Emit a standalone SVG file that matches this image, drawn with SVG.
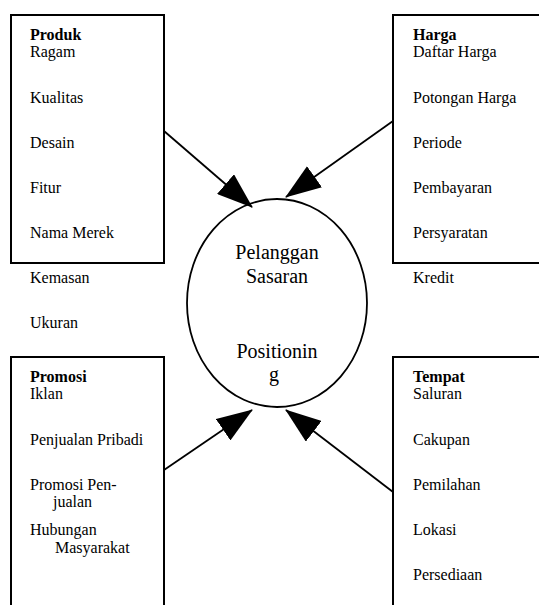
<svg xmlns="http://www.w3.org/2000/svg" width="539" height="605" viewBox="0 0 539 605">
<style>
text{font-family:"Liberation Serif","Times New Roman",serif;font-size:16px;fill:#000}
.h{font-weight:bold}
.c{font-size:20px;text-anchor:middle}
.box{fill:#fff;stroke:#000;stroke-width:2}
.conn line{stroke:#000;stroke-width:1.8;fill:none}
</style>
<defs>
<marker id="ah" viewBox="0 0 36 26" refX="35" refY="13" markerWidth="36" markerHeight="26" markerUnits="userSpaceOnUse" orient="auto">
<path d="M0,0 L36,13 L0,26 z" fill="#000"/>
</marker>
</defs>
<rect width="539" height="605" fill="#fff"/>
<g id="produk">
<rect class="box" x="11" y="15" width="153" height="248"/>
<text x="30" y="40" class="h">Produk</text>
<text x="30" y="57">Ragam</text>
<text x="30" y="103">Kualitas</text>
<text x="30" y="148">Desain</text>
<text x="30" y="193">Fitur</text>
<text x="30" y="238">Nama Merek</text>
<text x="30" y="283">Kemasan</text>
<text x="30" y="328">Ukuran</text>
</g>
<g id="harga">
<rect class="box" x="393" y="15" width="160" height="248"/>
<text x="413" y="40" class="h">Harga</text>
<text x="413" y="57">Daftar Harga</text>
<text x="413" y="103">Potongan Harga</text>
<text x="413" y="148">Periode</text>
<text x="413" y="193">Pembayaran</text>
<text x="413" y="238">Persyaratan</text>
<text x="413" y="283">Kredit</text>
</g>
<g id="promosi">
<rect class="box" x="11" y="357" width="153" height="260"/>
<text x="30" y="382" class="h">Promosi</text>
<text x="30" y="399">Iklan</text>
<text x="30" y="445">Penjualan Pribadi</text>
<text x="30" y="490">Promosi Pen-</text>
<text x="53" y="507">jualan</text>
<text x="30" y="535">Hubungan</text>
<text x="55" y="553">Masyarakat</text>
</g>
<g id="tempat">
<rect class="box" x="393" y="357" width="160" height="260"/>
<text x="413" y="382" class="h">Tempat</text>
<text x="413" y="399">Saluran</text>
<text x="413" y="445">Cakupan</text>
<text x="413" y="490">Pemilahan</text>
<text x="413" y="535">Lokasi</text>
<text x="413" y="580">Persediaan</text>
</g>
<g id="pelanggan">
<ellipse cx="277" cy="303" rx="90" ry="104" fill="#fff" stroke="#000" stroke-width="1.8"/>
<text x="277" y="259" class="c">Pelanggan</text>
<text x="277" y="283" class="c">Sasaran</text>
<text x="277" y="358" class="c">Positionin</text>
<text x="274" y="381" class="c">g</text>
</g>
<g class="conn" id="connectors">
<line x1="164" y1="131" x2="252" y2="207" marker-end="url(#ah)"/>
<line x1="393" y1="121" x2="286" y2="197" marker-end="url(#ah)"/>
<line x1="164" y1="470" x2="252" y2="410" marker-end="url(#ah)"/>
<line x1="393" y1="492" x2="286" y2="410" marker-end="url(#ah)"/>
</g>
</svg>
